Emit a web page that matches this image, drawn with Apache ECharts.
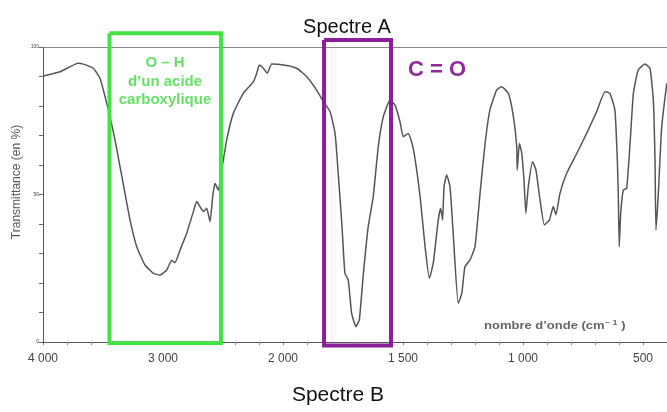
<!DOCTYPE html>
<html><head><meta charset="utf-8">
<script src="https://cdn.jsdelivr.net/npm/echarts@6/dist/echarts.min.js"></script>
<style>html,body{margin:0;padding:0;background:#fff}#c{width:667px;height:412px}</style>
</head><body><div id="c"></div>
<script>
// Spectrum data: wavenumber (cm-1) and transmittance (%)
var waveNumbers = [4000,3858,3706,3664,3581,3525,3483,3442,3400,3358,3317,3275,3219,3150,3081,3025,2969,2928,2900,2858,2803,2747,2719,2692,2664,2636,2608,2586,2567,2539,2511,2469,2414,2331,2247,2219,2197,2164,2131,2094,1998,1943,1901,1860,1832,1804,1783,1770,1755,1742,1728,1714,1696,1682,1665,1645,1624,1603,1582,1554,1533,1512,1499,1478,1457,1429,1408,1390,1374,1353,1343,1335,1329,1318,1304,1290,1270,1255,1242,1221,1200,1179,1158,1138,1110,1089,1061,1040,1026,1024,1015,1005,996,988,978,960,946,929,911,890,874,863,846,818,776,735,693,658,638,617,607,603,599,593,582,568,554,540,520,492,471,457,450,446,436,422,401];
var transmittance = [90.2,91.6,94.5,94.2,92.8,89.4,83.2,76.4,68.5,59.4,50.5,41.4,32.3,26.1,23.3,22.7,24.4,27.6,26.9,31.2,36.8,44.2,47.6,45.9,44.2,45.3,40.8,49.3,53.8,51.5,58.3,68.5,77.5,84.3,88.2,91.1,93.9,92.8,91.1,94.2,93.9,92.8,89.9,85.4,81.5,78.1,70.7,57.2,40.2,23.3,21.0,9.7,5.2,7.5,23.3,39.1,49.3,66.2,76.4,82.0,80.3,74.5,69.6,70.7,65.5,49.5,32.3,21.6,26.7,41.4,45.3,41.4,52.6,56.6,52.6,35.7,13.1,16.5,25.5,27.8,32.3,50.4,67.3,78.6,85.4,86.5,84.3,76.4,66.2,58.3,67.3,63.9,54.9,43.6,52.6,61.1,58.3,48.1,39.7,41.4,45.9,43.1,50.4,57.2,63.9,70.7,78.1,84.8,84.3,78.6,61.7,50.4,32.3,43.6,51.5,52.1,67.3,84.3,92.2,94.2,92.8,82.0,61.7,38.0,50.4,73.0,87.7];

// Axis tick labels
var xTickWaves = [4000,3000,2000,1500,1000,500];
var xTickLabels = ['4 000','3 000','2 000','1 500','1 000','500'];
var yTickValues = [0,50,100];
var yTickLabels = ['0','50','100'];

// Highlighted bands (wavenumber range, transmittance range)
var ohBoxWaves = [3446,2517];
var ohBoxT = [104.7,-0.3];
var coBoxWaves = [1829,1550];
var coBoxT = [102.4,-1.2];

// IR spectra: scale above 2000 cm-1 is half the scale below it
function toU(w){ return w >= 2000 ? 4000 - w : 2000 + (2000 - w) * 2; }

function rectData(ws, ts){
  return [[toU(ws[0]),ts[0]],[toU(ws[1]),ts[0]],[toU(ws[1]),ts[1]],[toU(ws[0]),ts[1]],[toU(ws[0]),ts[0]]];
}

var chart = echarts.init(document.getElementById('c'), null, {renderer:'canvas'});
var option = {
  animation:false,
  backgroundColor:'#fff',
  grid:{left:43,right:0,top:47,bottom:70},
  title:[
    {text:'Spectre A',left:342,top:12,textAlign:'center',textStyle:{fontFamily:'Liberation Sans',fontSize:20,fontWeight:'normal',color:'#111'}},
    {text:'Spectre B',left:333,top:380,textAlign:'center',textStyle:{fontFamily:'Liberation Sans',fontSize:21,fontWeight:'normal',color:'#111'}}
  ],
  xAxis:[{
    type:'value',min:0,max:5200,interval:1000,
    axisLine:{lineStyle:{color:'#555',width:1}},
    axisTick:{show:true,length:3,lineStyle:{color:'#666'}},
    minorTick:{show:true,splitNumber:5,length:3,lineStyle:{color:'#888'}},
    splitLine:{show:false},
    axisLabel:{margin:11,fontFamily:'Liberation Sans',fontSize:12,color:'#444',
      showMaxLabel:false,
      formatter:function(v){
        for(var i=0;i<xTickWaves.length;i++){ if(Math.abs(toU(xTickWaves[i])-v)<1e-6) return xTickLabels[i]; }
        return '';
      }}
  },{
    type:'value',min:0,max:5200,position:'top',
    axisLine:{show:true,lineStyle:{color:'#888',width:1}},
    axisTick:{show:false},axisLabel:{show:false},splitLine:{show:false}
  }],
  yAxis:{
    type:'value',min:0,max:100,interval:10,
    axisLine:{show:true,lineStyle:{color:'#555',width:1}},
    axisTick:{show:true,length:4,lineStyle:{color:'#666'}},
    splitLine:{show:false},
    axisLabel:{margin:4,fontFamily:'Liberation Sans',fontSize:5,color:'#444',
      formatter:function(v){ var i=yTickValues.indexOf(v); return i>=0?yTickLabels[i]:''; }}
  },
  series:[
    {type:'line',name:'spectre',symbol:'none',smooth:0.15,
     lineStyle:{color:'#555',width:1.5},
     data:waveNumbers.map(function(w,i){return [toU(w),transmittance[i]];})},
    {type:'line',name:'OH',symbol:'none',clip:false,z:5,
     lineStyle:{color:'#45e245',width:4,join:'miter'},
     data:rectData(ohBoxWaves,ohBoxT)},
    {type:'line',name:'CO',symbol:'none',clip:false,z:5,
     lineStyle:{color:'#8a1f9a',width:4,join:'miter'},
     data:rectData(coBoxWaves,coBoxT)}
  ],
  graphic:[
    {type:'text',x:17,y:182,rotation:Math.PI/2,
     style:{text:'Transmittance (en %)',x:0,y:0,textAlign:'center',textVerticalAlign:'middle',font:'12px "Liberation Sans"',fill:'#555'}},
    {type:'text',style:{text:'O – H\nd\u2019un acide\ncarboxylique',x:165,y:54,textAlign:'center',font:'bold 15px "Liberation Sans"',fill:'#66e066',lineHeight:18.5}},
    {type:'text',style:{text:'C = O',x:437,y:59,textAlign:'center',font:'bold 22px "Liberation Sans"',fill:'#8e2a9a'}},
    {type:'text',x:484,y:320,scaleX:1.3,
     style:{x:0,y:0,
      text:'{a|nombre d\u2019onde (cm}{s|\u2212 1}{a| )}',
      rich:{a:{fontFamily:'Liberation Sans',fontSize:10,fontWeight:'bold',fill:'#666'},
            s:{fontFamily:'Liberation Sans',fontSize:7,fontWeight:'bold',fill:'#666',padding:[0,0,5,0]}}}}
  ]
};
chart.setOption(option);
</script>
</body></html>
